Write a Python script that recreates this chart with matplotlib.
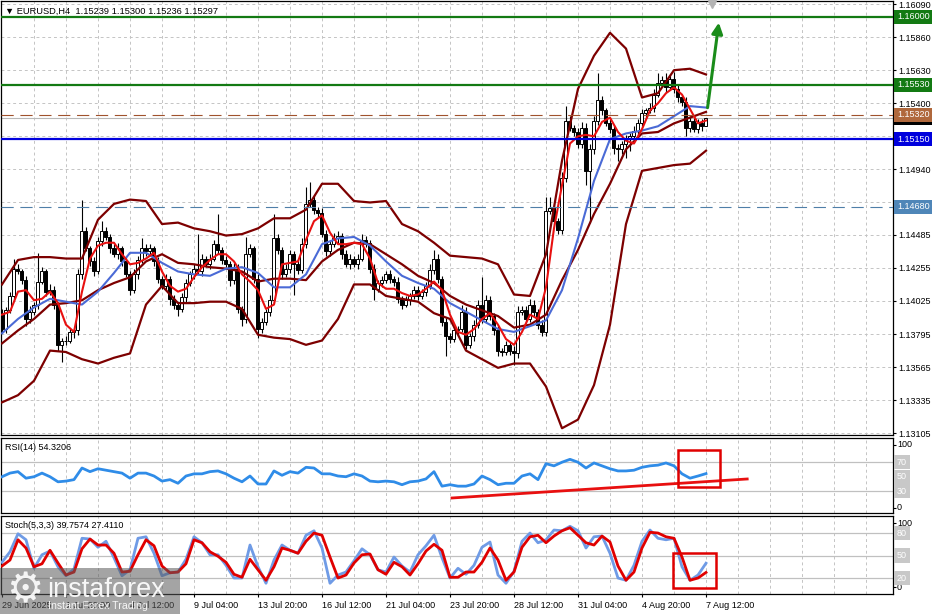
import numpy as np
import matplotlib.pyplot as plt
from matplotlib.patches import Rectangle, FancyArrowPatch

plt.rcParams['font.family'] = ['Liberation Sans', 'DejaVu Sans']

# ---------------- values ----------------
first_open = 1.1394
closes = [
    1.1383, 1.1396, 1.1406, 1.1425, 1.1423, 1.1417, 1.1390, 1.1395, 1.1400, 1.1416,
    1.1423, 1.1409, 1.1410, 1.1400, 1.1372, 1.1375, 1.1375, 1.1381, 1.1382, 1.1421,
    1.1451, 1.1439, 1.1430, 1.1423, 1.1444, 1.1451, 1.1447, 1.1439, 1.1435, 1.1439,
    1.1430, 1.1421, 1.1410, 1.1421, 1.1431, 1.1439, 1.1437, 1.1439, 1.1430, 1.1418,
    1.1413, 1.1418, 1.1404, 1.1400, 1.1397, 1.1405, 1.1415, 1.1421, 1.1425, 1.1423,
    1.1432, 1.1428, 1.1432, 1.1442, 1.1438, 1.1431, 1.1428, 1.1417, 1.1425, 1.1397,
    1.1390, 1.1435, 1.1439, 1.1418, 1.1383, 1.1388, 1.1395, 1.1403, 1.1446, 1.1438,
    1.1421, 1.1425, 1.1435, 1.1428, 1.1424, 1.1442, 1.1470, 1.1473, 1.1466, 1.1464,
    1.1449, 1.1437, 1.1442, 1.1446, 1.1448, 1.1435, 1.1428, 1.1432, 1.1428, 1.1432,
    1.1445, 1.1443, 1.1425, 1.1411, 1.1415, 1.1417, 1.1421, 1.1418, 1.1416, 1.1404,
    1.1400, 1.1403, 1.1406, 1.1410, 1.1406, 1.1409, 1.1413, 1.1424, 1.1432, 1.1418,
    1.1388, 1.1378, 1.1376, 1.1382, 1.1383, 1.1395, 1.1372, 1.1378, 1.1386, 1.1400,
    1.1390, 1.1403, 1.1392, 1.1382, 1.1368, 1.1367, 1.1372, 1.1368, 1.1366, 1.1395,
    1.1396, 1.1390, 1.1400, 1.1395, 1.1386, 1.1381, 1.1465, 1.1467, 1.1458, 1.1452,
    1.1488, 1.1528, 1.1523, 1.1520, 1.1512, 1.1523, 1.1493, 1.1508, 1.1528, 1.1542,
    1.1535, 1.1526, 1.1522, 1.1509, 1.1508, 1.1512, 1.1515, 1.1517, 1.1521, 1.1526,
    1.1533, 1.1535, 1.1537, 1.1546, 1.1554, 1.1556, 1.1551, 1.1557, 1.1550, 1.1544,
    1.1541, 1.1523, 1.1528, 1.1522, 1.1526, 1.1524, 1.1530,
]
# wick lengths in pips above / below the body
upper_wick = [
    3, 2, 3, 7, 3, 2, 3, 4, 2, 20,
    3, 2, 4, 3, 2, 2, 3, 3, 2, 4,
    22, 3, 2, 3, 3, 7, 3, 2, 3, 4,
    2, 3, 2, 4, 3, 7, 3, 3, 2, 3,
    2, 3, 2, 3, 2, 3, 3, 2, 3, 24,
    3, 2, 3, 3, 21, 2, 3, 2, 4, 3,
    2, 12, 3, 2, 3, 3, 2, 4, 17, 3,
    2, 3, 3, 2, 3, 4, 12, 12, 3, 2,
    3, 3, 2, 4, 3, 2, 3, 3, 2, 3,
    4, 3, 2, 3, 2, 3, 2, 3, 2, 3,
    2, 3, 2, 3, 3, 2, 3, 4, 6, 3,
    2, 3, 2, 3, 2, 5, 3, 2, 3, 3,
    19, 4, 3, 2, 3, 2, 3, 2, 3, 4,
    3, 3, 4, 3, 2, 3, 10, 8, 3, 2,
    4, 10, 3, 2, 3, 4, 3, 4, 3, 19,
    3, 2, 3, 2, 3, 2, 3, 2, 3, 3,
    3, 2, 3, 4, 7, 3, 5, 3, 5, 3,
    2, 3, 3, 2, 3, 3, 0,
]
lower_wick = [
    3, 3, 2, 3, 2, 3, 5, 3, 2, 3,
    2, 3, 2, 3, 4, 12, 3, 2, 4, 3,
    3, 2, 3, 3, 2, 3, 2, 3, 2, 3,
    3, 2, 3, 2, 3, 2, 3, 2, 3, 3,
    2, 3, 4, 3, 5, 2, 3, 2, 3, 2,
    3, 2, 3, 2, 3, 3, 2, 4, 3, 3,
    5, 3, 2, 3, 6, 3, 2, 3, 2, 3,
    3, 2, 3, 21, 3, 2, 3, 2, 3, 3,
    2, 3, 3, 2, 3, 3, 2, 3, 2, 3,
    2, 3, 3, 8, 2, 3, 2, 3, 3, 3,
    3, 2, 3, 2, 3, 2, 3, 2, 3, 3,
    3, 14, 3, 2, 3, 2, 3, 2, 3, 2,
    3, 2, 3, 3, 4, 3, 2, 3, 8, 3,
    2, 3, 2, 3, 3, 3, 3, 2, 3, 3,
    3, 3, 2, 3, 3, 3, 10, 36, 3, 3,
    3, 2, 3, 4, 8, 3, 10, 8, 4, 3,
    2, 3, 2, 3, 2, 3, 3, 2, 3, 3,
    3, 6, 3, 2, 3, 3, 0,
]

# Bollinger bands and blue MA, one value every 4 bars
bb_upper = [
    1.1414, 1.1431, 1.1433, 1.1433, 1.1432, 1.1432, 1.1459, 1.1470, 1.1473, 1.1472,
    1.1456, 1.1457, 1.1453, 1.1451, 1.1448, 1.1449, 1.1453, 1.1460, 1.1460, 1.1466,
    1.1484, 1.1484, 1.1472, 1.1471, 1.1472, 1.1456, 1.1451, 1.1443, 1.1434, 1.1433,
    1.1432, 1.1428, 1.1407, 1.1406, 1.1435, 1.1500, 1.1550, 1.1573, 1.1589, 1.1578,
    1.1544, 1.1547, 1.1563, 1.1564, 1.1560,
]
bb_mid = [
    1.1373, 1.1382, 1.1390, 1.1400, 1.1401, 1.1403, 1.1410, 1.1415, 1.1419, 1.1430,
    1.1435, 1.1429, 1.1428, 1.1426, 1.1425, 1.1423, 1.1416, 1.1418, 1.1418, 1.1417,
    1.1430, 1.1438, 1.1443, 1.1442, 1.1435, 1.1428, 1.1420, 1.1415, 1.1406, 1.1400,
    1.1396, 1.1392, 1.1384, 1.1386, 1.1393, 1.1417, 1.1438, 1.1463, 1.1484, 1.1508,
    1.1519, 1.1520, 1.1526, 1.1530, 1.1534,
]
bb_lower = [
    1.1332, 1.1337, 1.1347, 1.1368, 1.1367, 1.1362, 1.1359, 1.1363, 1.1366, 1.1400,
    1.1413, 1.1401, 1.1401, 1.1402, 1.1402, 1.1397, 1.1379, 1.1377, 1.1376, 1.1372,
    1.1375, 1.1390, 1.1414, 1.1414, 1.1406, 1.1404, 1.1402, 1.1394, 1.1390, 1.1368,
    1.1362, 1.1356, 1.1359, 1.1359, 1.1343, 1.1314, 1.1320, 1.1344, 1.1386, 1.1456,
    1.1493, 1.1495, 1.1497, 1.1498, 1.1507,
]
ma_blue = [
    1.1380, 1.1390, 1.1398, 1.1404, 1.1402, 1.1400, 1.1409, 1.1422, 1.1436, 1.1436,
    1.1429, 1.1423, 1.1421, 1.1420, 1.1425, 1.1426, 1.1422, 1.1412, 1.1412, 1.1421,
    1.1442, 1.1446, 1.1447, 1.1441, 1.1430, 1.1420, 1.1415, 1.1411, 1.1401, 1.1395,
    1.1389, 1.1383, 1.1381, 1.1385, 1.1389, 1.1410, 1.1446, 1.1486, 1.1515, 1.1519,
    1.1521, 1.1524, 1.1531, 1.1538, 1.1537,
]
# red MA, RSI and stochastic, one value every 2 bars
ma_red = [
    1.1393, 1.1395, 1.1409, 1.1410, 1.1403, 1.1404, 1.1409, 1.1401, 1.1386, 1.1381,
    1.1409, 1.1432, 1.1441, 1.1443, 1.1443, 1.1435, 1.1428, 1.1429, 1.1432, 1.1436,
    1.1423, 1.1413, 1.1409, 1.1411, 1.1419, 1.1426, 1.1431, 1.1435, 1.1435, 1.1430,
    1.1421, 1.1416, 1.1410, 1.1397, 1.1400, 1.1428, 1.1429, 1.1430, 1.1445, 1.1458,
    1.1462, 1.1450, 1.1442, 1.1442, 1.1443, 1.1442, 1.1432, 1.1415, 1.1411, 1.1411,
    1.1408, 1.1406, 1.1407, 1.1411, 1.1416, 1.1410, 1.1393, 1.1381, 1.1379, 1.1383,
    1.1390, 1.1394, 1.1386, 1.1376, 1.1372, 1.1381, 1.1393, 1.1390, 1.1412, 1.1453,
    1.1483, 1.1512, 1.1517, 1.1518, 1.1517, 1.1527, 1.1530, 1.1520, 1.1514, 1.1512,
    1.1522, 1.1535, 1.1540, 1.1547, 1.1551, 1.1546, 1.1536, 1.1526, 1.1528,
]
rsi = [
    50, 55, 57, 48, 50, 55, 50, 43, 44, 46,
    62, 57, 61, 59, 57, 55, 48, 55, 55, 51,
    44, 46, 41, 51, 54, 54, 57, 58, 54, 48,
    43, 51, 40, 40, 58, 52, 57, 55, 63, 62,
    54, 54, 51, 50, 54, 51, 44, 43, 44, 43,
    39, 43, 44, 47, 57, 37, 39, 37, 37, 40,
    51, 46, 39, 41, 41, 51, 54, 46, 68, 65,
    70, 74, 70, 62, 69, 65, 61, 58, 58, 59,
    63, 65, 66, 69, 65, 54, 48, 51, 54.32,
]
stoch_k = [
    41, 55, 79, 71, 33, 51, 56, 35, 23, 32,
    73, 72, 61, 69, 47, 23, 31, 73, 75, 53,
    23, 27, 28, 45, 75, 67, 51, 51, 37, 20,
    20, 64, 35, 13, 44, 64, 57, 53, 77, 83,
    60, 13, 24, 28, 43, 59, 51, 31, 28, 48,
    36, 28, 51, 63, 77, 47, 20, 33, 25, 37,
    61, 68, 24, 13, 29, 69, 80, 67, 71, 84,
    83, 89, 83, 60, 75, 76, 53, 20, 17, 37,
    69, 84, 73, 71, 73, 35, 17, 24, 39.76,
]
stoch_d = [
    36, 44, 71, 60, 35, 39, 57, 40, 24, 28,
    59, 72, 64, 64, 53, 28, 29, 51, 71, 63,
    36, 27, 28, 39, 71, 67, 55, 49, 41, 25,
    21, 45, 31, 17, 35, 60, 57, 53, 69, 80,
    77, 48, 20, 24, 40, 51, 52, 31, 25, 41,
    35, 24, 39, 56, 65, 57, 21, 21, 28, 28,
    41, 60, 44, 17, 28, 61, 75, 77, 67, 76,
    83, 87, 77, 67, 64, 76, 68, 36, 17, 28,
    60, 81, 80, 75, 73, 48, 17, 20, 27.41,
]

price_ticks = [1.16090, 1.15860, 1.15630, 1.15400, 1.15170, 1.14940, 1.14710,
               1.14485, 1.14255, 1.14025, 1.13795, 1.13565, 1.13335, 1.13105]
date_bars = [0, 16, 32, 48, 64, 80, 96, 112, 128, 144, 160, 176]
date_labels = ['29 Jun 2025', '1 Jul 20:00', '4 Jul 12:00', '9 Jul 04:00', '13 Jul 20:00',
               '16 Jul 12:00', '21 Jul 04:00', '23 Jul 20:00', '28 Jul 12:00',
               '31 Jul 04:00', '4 Aug 20:00', '7 Aug 12:00']
# horizontal levels: price, colour, style, width, label colour
levels = [
    (1.16000, '#137a13', '-', 1.6, '#137a13'),
    (1.15530, '#137a13', '-', 1.6, '#137a13'),
    (1.15150, '#0000dd', '-', 1.6, '#0000dd'),
    (1.15320, '#a0522d', '--', 0.8, '#b0683c'),
    (1.14680, '#4f7fa8', '--', 0.8, '#4f86b8'),
]
last_price = 1.15297

# ---------------- layout ----------------
W, H = 937, 614
fig = plt.figure(figsize=(W / 100, H / 100), dpi=100)
fig.patch.set_facecolor('white')


def panel(top, bottom):
    a = fig.add_axes([1 / W, 1 - bottom / H, 892 / W, (bottom - top) / H])
    a.set_xlim(-0.25, 222.75)
    for s in a.spines.values():
        s.set_color('black')
        s.set_linewidth(0.9)
    for gx in range(8, 223, 8):
        a.axvline(gx, color='#c4c4c4', lw=0.7, ls=(0, (3, 3)), zorder=0)
    a.yaxis.tick_right()
    a.tick_params(axis='y', length=2.2, pad=1.5, labelsize=6.5, colors='black')
    return a


def right_label(a, y, txt, fc, tc='white'):
    a.text(1 + 4 / 892, y, txt, transform=a.get_yaxis_transform(), ha='left', va='center',
           fontsize=6.5, color=tc, clip_on=False, zorder=10,
           bbox=dict(boxstyle='square,pad=0.28', fc=fc, ec='none'))


ax = panel(1, 435)
ax_rsi = panel(438, 513)
ax_st = panel(516, 594)

# ---------------- price panel ----------------
ax.set_ylim(1.13093, 1.16111)
ax.set_yticks(price_ticks)
ax.set_yticklabels([f'{v:.5f}' for v in price_ticks])
for v in price_ticks:
    ax.axhline(v, color='#c4c4c4', lw=0.7, ls=(0, (3, 3)), zorder=0)
ax.set_xticks([])

n = len(closes)
bars = np.arange(n)
c = np.array(closes)
o = np.array([first_open] + closes[:-1])
hi = np.maximum(o, c) + np.array(upper_wick) * 1e-4
lo = np.minimum(o, c) - np.array(lower_wick) * 1e-4
ax.vlines(bars, lo, hi, color='black', lw=0.8, zorder=2)
ax.bar(bars, c - o, bottom=o, width=0.75, color=np.where(c >= o, 'white', 'black'),
       edgecolor='black', linewidth=0.7, zorder=3)

x4 = np.linspace(0, n - 1, len(bb_upper))
x2 = np.linspace(0, n - 1, len(ma_red))
for band in (bb_upper, bb_mid, bb_lower):
    ax.plot(x4, band, color='#7d0000', lw=1.6, zorder=4, solid_joinstyle='round')
ax.plot(x4, ma_blue, color='#4a6ad6', lw=1.5, zorder=5)
ax.plot(x2, ma_red, color='#e81010', lw=1.5, zorder=6)

ax.axhline(last_price, color='#b8b8b8', lw=0.8, zorder=1)
right_label(ax, last_price, f'{last_price:.5f}', 'black')
for price, col, ls, lw, lab in levels:
    if ls == '--':
        ax.axhline(price, color=col, lw=lw, ls=(0, (11, 6)), zorder=7)
    else:
        ax.axhline(price, color=col, lw=lw, zorder=7)
    right_label(ax, price, f'{price:.5f}', lab)

ax.add_patch(FancyArrowPatch((176.3, 1.1535), (179.3, 1.1598), arrowstyle='-|>',
                             mutation_scale=16, lw=2.2, color='#1a8c1a', zorder=9))
ax.plot([177.5], [1.1609], marker='v', ms=6, color='#b4b4b4', clip_on=False, zorder=9)
ax.text(4 / 892, 1 - 10 / 434, '\u25bc EURUSD,H4  1.15239 1.15300 1.15236 1.15297',
        transform=ax.transAxes, fontsize=6.7, va='center', ha='left')

# ---------------- RSI panel ----------------
ax_rsi.set_ylim(0, 103.4)
ax_rsi.set_xticks([])
ax_rsi.set_yticks([6.9, 30, 50, 70, 93.8])
ax_rsi.set_yticklabels([])
for lvl in (30, 70):
    ax_rsi.axhline(lvl, color='#c0c0c0', lw=0.9, zorder=1)
ax_rsi.plot(x2, rsi, color='#2f8ce8', lw=2.0, zorder=3)
ax_rsi.plot([112.5, 186.3], [20.7, 46.9], color='#e81010', lw=2.0, zorder=4, clip_on=False)
ax_rsi.add_patch(Rectangle((169, 35.9), 10.5, 51, fill=False, ec='#e00000', lw=1.8, zorder=5))
ax_rsi.text(4 / 892, 1 - 9 / 75, 'RSI(14) 54.3206', transform=ax_rsi.transAxes,
            fontsize=6.5, va='center', ha='left')
for val, txt in ((93.8, '100'), (6.9, '0')):
    ax_rsi.text(1 + 4 / 892, val, txt, transform=ax_rsi.get_yaxis_transform(),
                fontsize=6.5, va='center', ha='left', clip_on=False)
for val in (70, 50, 30):
    right_label(ax_rsi, val, str(val), '#c8c8c8')

# ---------------- Stochastic panel ----------------
ax_st.set_ylim(-1.3, 102.7)
ax_st.set_yticks([8, 20, 50, 80, 93.3])
ax_st.set_yticklabels([])
for lvl in (20, 50, 80):
    ax_st.axhline(lvl, color='#c0c0c0', lw=0.9, zorder=1)
ax_st.plot(x2, stoch_k, color='#6f9be6', lw=2.0, zorder=3)
ax_st.plot(x2, stoch_d, color='#e00000', lw=2.0, zorder=4)
ax_st.add_patch(Rectangle((167.75, 6.7), 10.75, 46.6, fill=False, ec='#e00000', lw=1.8, zorder=5))
ax_st.text(4 / 892, 1 - 10 / 78, 'Stoch(5,3,3) 39.7574 27.4110', transform=ax_st.transAxes,
           fontsize=6.5, va='center', ha='left')
for val, txt in ((93.3, '100'), (8, '0')):
    ax_st.text(1 + 4 / 892, val, txt, transform=ax_st.get_yaxis_transform(),
               fontsize=6.5, va='center', ha='left', clip_on=False)
for val in (80, 50, 20):
    right_label(ax_st, val, str(val), '#c8c8c8')
ax_st.set_xticks(date_bars)
ax_st.set_xticklabels(date_labels, ha='left', fontsize=6.5)
ax_st.tick_params(axis='x', length=2.2, pad=2.5)

# ---------------- watermark ----------------
fig.patches.append(Rectangle((0, 0), 180 / W, 46 / H, transform=fig.transFigure,
                             fc='#5a5a5a', ec='none', alpha=0.55, zorder=10))
fig.text(25 / W, 1 - 590 / H, '\u2699', fontsize=30, color='white', ha='center', va='center',
         family='DejaVu Sans', alpha=0.9, zorder=11)
fig.text(47 / W, 1 - 597 / H, 'instaforex', fontsize=19.5, color='white', ha='left',
         va='baseline', alpha=0.92, zorder=11)
fig.text(48 / W, 1 - 609 / H, 'Instant Forex Trading', fontsize=7.6, color='white', ha='left',
         va='baseline', alpha=0.9, zorder=11)

fig.savefig('out.png', dpi=100, facecolor='white')
